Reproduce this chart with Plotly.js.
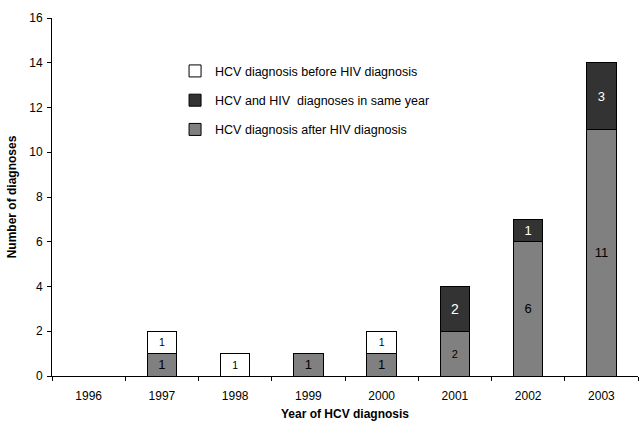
<!DOCTYPE html>
<html>
<head>
<meta charset="utf-8">
<script src="https://cdn.plot.ly/plotly-3.0.1.min.js"></script>
<style>html,body{margin:0;padding:0;background:#fff;}#chart{width:639px;height:421px;}</style>
</head>
<body>
<div id="chart"></div>
<script>
const years = ['1996','1997','1998','1999','2000','2001','2002','2003'];
const afterHIV = [0, 1, 0, 1, 1, 2, 6, 11];
const sameYear = [0, 0, 0, 0, 0, 2, 1, 3];
const beforeHIV = [0, 1, 1, 0, 1, 0, 0, 0];
const afterLabelSize = [12, 13, 12, 13, 13, 11, 13, 13];
const sameLabelSize = [13, 13, 13, 13, 13, 14, 13, 13];
const beforeLabelSize = [10.5, 10.5, 10.5, 10.5, 10.5, 10.5, 10.5, 10.5];

const names = ['HCV diagnosis after HIV diagnosis', 'HCV and HIV  diagnoses in same year', 'HCV diagnosis before HIV diagnosis'];
const font = 'Liberation Sans, Arial, sans-serif';

function labels(v){ return v.map(x => x > 0 ? String(x) : ''); }

function mk(vals, name, color, txtColor, sizes, grp, rank){
  return {
    type: 'bar', x: years, y: vals, name: name, legendgroup: grp, legendrank: rank,
    marker: {color: color, line: {color: '#000', width: 1}},
    text: labels(vals), textposition: 'inside', insidetextanchor: 'middle',
    constraintext: 'none',
    textfont: {family: font, color: txtColor, size: sizes},
    hoverinfo: 'none', width: 0.4
  };
}

const data = [
  mk(afterHIV, names[0], '#808080', '#000', afterLabelSize, 'a', 3),
  mk(sameYear, names[1], '#333333', '#fff', sameLabelSize, 'b', 2),
  mk(beforeHIV, names[2], '#ffffff', '#000', beforeLabelSize, 'c', 1)
];

const layout = {
  width: 639, height: 421,
  margin: {l: 52, r: 1, t: 18, b: 45},
  paper_bgcolor: '#fff', plot_bgcolor: '#fff',
  barmode: 'stack',
  font: {family: font, size: 12, color: '#000'},
  showlegend: true,
  legend: {
    x: 0.21, y: 0.893, xanchor: 'left', yanchor: 'top',
    traceorder: 'grouped', tracegroupgap: 10,
    bgcolor: 'rgba(0,0,0,0)', font: {family: font, size: 12.5, color: '#000'},
    itemclick: false
  },
  xaxis: {
    type: 'category', range: [-0.5, 7.5],
    showline: true, linecolor: '#000', linewidth: 1,
    ticks: 'outside', tickson: 'boundaries', ticklen: 4, tickcolor: '#000',
    showgrid: false, zeroline: false, ticklabelstandoff: 9,
    tickfont: {family: font, size: 12, color: '#000'},
    title: {text: 'Year of HCV diagnosis', font: {family: font, size: 12, color: '#000', weight: 'bold'}, standoff: 9}
  },
  yaxis: {
    range: [0, 16], dtick: 2,
    showline: true, linecolor: '#000', linewidth: 1,
    ticks: 'outside', ticklen: 4, tickcolor: '#000',
    showgrid: false, zeroline: false, ticklabelstandoff: 2,
    tickfont: {family: font, size: 12, color: '#000'},
    title: {text: 'Number of diagnoses', font: {family: font, size: 12, color: '#000', weight: 'bold'}, standoff: 10}
  }
};

Plotly.newPlot('chart', data, layout, {displayModeBar: false, staticPlot: true});
</script>
</body>
</html>
